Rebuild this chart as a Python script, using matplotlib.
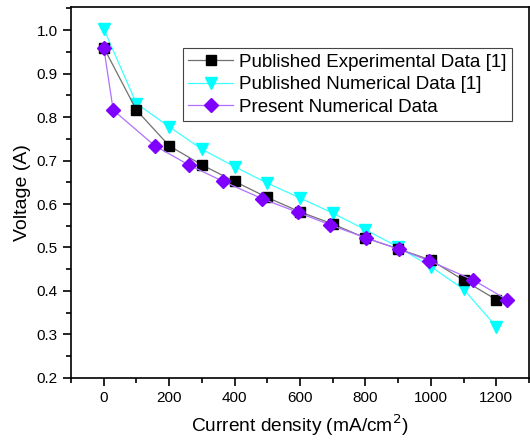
import matplotlib
matplotlib.use("Agg")
import matplotlib.pyplot as plt
from matplotlib.ticker import MultipleLocator

plt.rcParams['font.family'] = ['Liberation Sans', 'DejaVu Sans']

exp_x = [0, 100, 200, 300, 400, 500, 600, 700, 800, 900, 1000, 1100, 1200]
exp_y = [0.960, 0.816, 0.734, 0.690, 0.652, 0.615, 0.582, 0.554, 0.522, 0.497, 0.471, 0.425, 0.380]

num_x = [0, 100, 200, 300, 400, 500, 600, 700, 800, 900, 1000, 1100, 1200]
num_y = [1.003, 0.831, 0.778, 0.726, 0.686, 0.648, 0.614, 0.579, 0.541, 0.501, 0.456, 0.404, 0.318]

pres_x = [0, 29, 156, 260, 365, 485, 593, 692, 802, 903, 993, 1130, 1233]
pres_y = [0.960, 0.816, 0.734, 0.690, 0.652, 0.612, 0.581, 0.552, 0.522, 0.496, 0.470, 0.425, 0.380]

labels = ['Published Experimental Data [1]', 'Published Numerical Data [1]', 'Present Numerical Data']

fig = plt.figure(figsize=(5.30, 4.42), dpi=100)
ax = fig.add_axes([0.134, 0.145, 0.864, 0.839])

ax.plot(exp_x, exp_y, color='#707070', lw=0.9, marker='s', ms=7,
        mfc='black', mec='black', label=labels[0], zorder=3)
ax.plot(num_x, num_y, color='#40FFFF', lw=0.9, marker='v', ms=8.5,
        mfc='#00FFFF', mec='#00FFFF', label=labels[1], zorder=2)
ax.plot(pres_x, pres_y, color='#B070FF', lw=0.9, marker='D', ms=7,
        mfc='#8000FF', mec='#8000FF', label=labels[2], zorder=4)

ax.set_xlim(-100, 1300)
ax.set_ylim(0.2, 1.053)
ax.xaxis.set_minor_locator(MultipleLocator(100))
ax.yaxis.set_minor_locator(MultipleLocator(0.05))
ax.set_xticks([0, 200, 400, 600, 800, 1000, 1200])
ax.set_yticks([0.2, 0.3, 0.4, 0.5, 0.6, 0.7, 0.8, 0.9, 1.0])
ax.set_yticklabels(['0.2', '0.3', '0.4', '0.5', '0.6', '0.7', '0.8', '0.9', '1.0'])

ax.tick_params(axis='both', which='major', direction='out', length=6, width=1.2,
               labelsize=11, colors='black', top=False, right=False)
ax.tick_params(axis='both', which='minor', direction='out', length=3.5, width=1.2,
               top=False, right=False)
for s in ax.spines.values():
    s.set_linewidth(1.2)

ax.set_xlabel('Current density (mA/cm$^2$)', fontsize=13.8, labelpad=5)
ax.set_ylabel('Voltage (A)', fontsize=14, labelpad=4)

leg = ax.legend(loc='upper right', bbox_to_anchor=(0.963, 0.889), borderaxespad=0,
                fontsize=13.5, handlelength=2.4, handletextpad=0.3, labelspacing=0.28,
                borderpad=0.3, fancybox=False, framealpha=1, edgecolor='#444444')
leg.get_frame().set_linewidth(0.8)

fig.savefig('out.png', dpi=100)
